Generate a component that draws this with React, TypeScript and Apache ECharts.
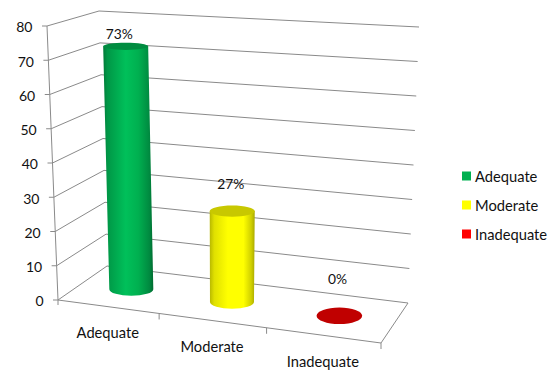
import React, { useEffect, useRef } from "react";
import * as echarts from "echarts";

const categories = ["Adequate", "Moderate", "Inadequate"];
const percentValues = [73, 27, 0];
const yTicks = [0, 10, 20, 30, 40, 50, 60, 70, 80];
const seriesColors = ["#00b050", "#ffff00", "#ff0000"];
const FONT = "Lato, Carlito, sans-serif";

type Pt = [number, number];
const FL: Pt = [58, 300], FR: Pt = [381, 343], BL: Pt = [107, 266], BR: Pt = [408, 303];
const HFL: Pt = [-11, -274], HFR: Pt = [13, -274], HBL: Pt = [-8, -255], HBR: Pt = [11, -276];
const lerp = (a: Pt, b: Pt, t: number): Pt => [a[0] + (b[0] - a[0]) * t, a[1] + (b[1] - a[1]) * t];
const bi = (a: Pt, b: Pt, c: Pt, d: Pt, u: number, w: number) => lerp(lerp(a, b, u), lerp(c, d, u), w);
const persp = (t: number) => t / (t + (1 - t) * 1.097);
// t: along the front edge (0..1, before perspective), w: depth (0..1), v: height (0..1)
const project = (t: number, w: number, v: number): Pt => {
  const u = persp(t);
  const f = bi(FL, FR, BL, BR, u, w);
  const h = bi(HFL, HFR, HBL, HBR, u, w);
  return [f[0] + h[0] * v, f[1] + h[1] * v];
};
const LINE = { stroke: "#8a8a8a", lineWidth: 1, fill: "none" };
const seg = (a: Pt, b: Pt) => ({
  type: "line",
  shape: { x1: a[0], y1: a[1], x2: b[0], y2: b[1] },
  style: LINE,
  silent: true,
});
const txt = (text: string, x: number, y: number, align: string, fontSize = 14.7) => ({
  type: "text",
  style: { text, x, y, fontFamily: FONT, fontSize, fill: "#111", align, verticalAlign: "middle" },
  silent: true,
});

const labelOffsets: Pt[] = [[-6.5, -13], [-1.5, -28], [-1.5, -37]];
const sideStops = [
  [
    [0, "#007a38"], [0.08, "#009646"], [0.45, "#00c05a"], [0.7, "#00b050"], [0.92, "#008a40"], [1, "#006a30"],
  ],
  [
    [0, "#b8b800"], [0.1, "#e0e000"], [0.4, "#ffff00"], [0.75, "#ffff00"], [0.92, "#d0d000"], [1, "#aaaa00"],
  ],
  [
    [0, "#a00000"], [0.5, "#ff0000"], [1, "#a00000"],
  ],
];
const capColors = ["#008c40", "#c8c800", "#c00000"];

const norm = (params: any, api: any, idx: number, val: number) => {
  const cs = params.coordSys;
  const p = api.coord([idx, val]);
  return { t: (p[0] - cs.x) / cs.width, v: (cs.y + cs.height - p[1]) / cs.height };
};

function renderYTick(params: any, api: any) {
  const val = api.value(0);
  const { v } = norm(params, api, 0, val);
  const a = project(0, 0, v), b = project(0, 1, v), c = project(1, 1, v);
  return {
    type: "group",
    children: [
      seg(a, b),
      seg(b, c),
      seg([a[0] - 5, a[1]], a),
      txt(String(val), a[0] - 14.5, a[1] + 0.8, "right", 14),
    ],
  };
}

function renderFrame(params: any, api: any) {
  const i = api.value(0);
  const bw = api.size([1, 0])[0];
  const cs = params.coordSys;
  const p = api.coord([i, 0]);
  const tR = (p[0] + bw / 2 - cs.x) / cs.width;
  const tC = (p[0] - cs.x) / cs.width;
  const r = project(tR, 0, 0);
  const c = project(tC, 0, 0);
  const children: any[] = [seg([r[0], r[1]], [r[0], r[1] + 6]), txt(categories[i], c[0], c[1] + 25.5, "center")];
  if (i === 0) {
    children.push(seg(project(0, 0, 0), project(0, 0, 1)));
    children.push(seg(project(0, 0, 0), [FL[0], FL[1] + 5]));
    children.push(seg(FL, FR), seg(FR, BR));
  }
  return { type: "group", children };
}

function renderCylinder(params: any, api: any) {
  const idx = api.value(0);
  const val = api.value(1);
  const { t, v } = norm(params, api, idx, val);
  const base = project(t, 0.5, 0);
  const top = project(t, 0.5, v);
  base[0] += 0.7;
  top[0] += 0.7;
  const label = `${val}%`;
  const ryAt = (y: number) => 3 + 0.0125 * y;
  const lbl = txt(label, top[0] + labelOffsets[idx][0], top[1] + labelOffsets[idx][1], "center", 13.8);
  if (val === 0) {
    return {
      type: "group",
      children: [
        {
          type: "ellipse",
          shape: { cx: base[0] + 0.3, cy: base[1], rx: 22.8, ry: 8.3 },
          style: { fill: capColors[idx] },
          silent: true,
        },
        lbl,
      ],
    };
  }
  const rxT = 22.5, rxB = 22;
  const ryB = ryAt(base[1]);
  const d = `M ${top[0] - rxT} ${top[1]} L ${base[0] - rxB} ${base[1]} A ${rxB} ${ryB} 0 0 0 ${base[0] + rxB} ${base[1]} L ${top[0] + rxT} ${top[1]} Z`;
  return {
    type: "group",
    children: [
      {
        type: "path",
        shape: { pathData: d },
        style: {
          fill: new echarts.graphic.LinearGradient(
            0, 0, 1, 0,
            sideStops[idx].map(([offset, color]) => ({ offset: offset as number, color: color as string }))
          ),
        },
        silent: true,
      },
      {
        type: "ellipse",
        shape: { cx: top[0], cy: top[1], rx: rxT, ry: ryAt(top[1]) },
        style: { fill: capColors[idx] },
        silent: true,
      },
      lbl,
    ],
  };
}

export default function App() {
  const ref = useRef<HTMLDivElement>(null);
  useEffect(() => {
    const chart = echarts.init(ref.current!, undefined, { renderer: "svg" });
    chart.setOption({
      animation: false,
      backgroundColor: "#fff",
      grid: { left: 58, top: 26, width: 323, height: 274 },
      xAxis: { type: "category", data: categories, show: false },
      yAxis: { type: "value", min: 0, max: 80, interval: 10, show: false },
      legend: {
        orient: "vertical",
        left: 462,
        top: 168,
        padding: 0,
        itemWidth: 9,
        itemHeight: 9,
        itemGap: 13,
        icon: "rect",
        selectedMode: false,
        data: categories.map((name, i) => ({ name, itemStyle: { color: seriesColors[i], borderWidth: 0 } })),
        textStyle: { fontFamily: FONT, fontSize: 14.7, color: "#111", lineHeight: 16, padding: [0, 0, 0, -1] },
      },
      series: [
        {
          type: "custom",
          name: "grid-lines",
          renderItem: renderYTick,
          data: yTicks.map((y) => [y]),
          encode: { y: 0 },
          z: 1,
          silent: true,
        },
        {
          type: "custom",
          name: "frame",
          renderItem: renderFrame,
          data: categories.map((_, i) => [i, 0]),
          encode: { x: 0, y: 1 },
          z: 1,
          silent: true,
        },
        ...categories.map((name, i) => ({
          type: "custom",
          name,
          renderItem: renderCylinder,
          data: [[i, percentValues[i]]],
          encode: { x: 0, y: 1 },
          itemStyle: { color: seriesColors[i] },
          z: 2,
          silent: true,
        })),
      ],
    });
    return () => chart.dispose();
  }, []);
  return <div ref={ref} style={{ position: "absolute", left: 0, top: 0, width: 558, height: 376 }} />;
}
